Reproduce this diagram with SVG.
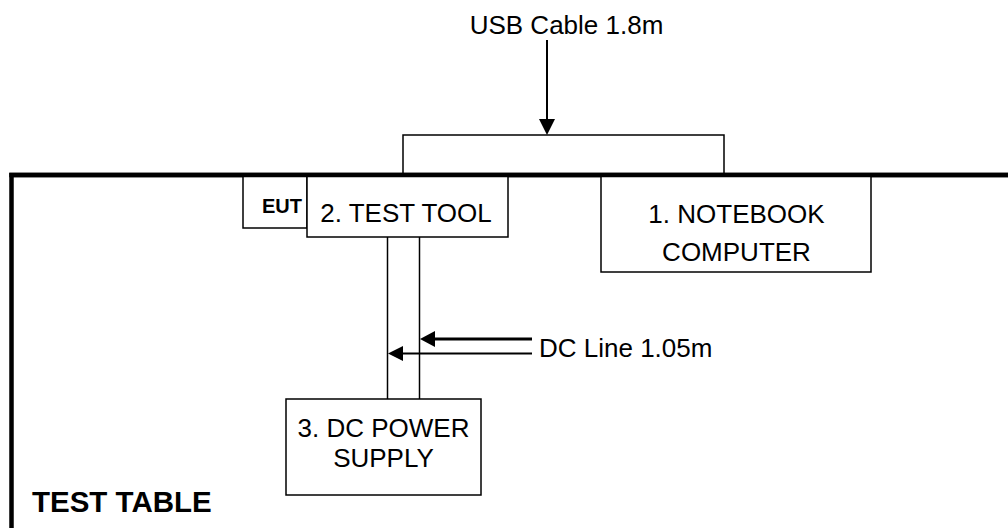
<svg xmlns="http://www.w3.org/2000/svg" width="1008" height="528" viewBox="0 0 1008 528">
<style>
.box{fill:#fff;stroke:#000;stroke-width:1.5}
.t{font-family:"Liberation Sans",Arial,sans-serif;font-size:26px;fill:#000}
.b{font-family:"Liberation Sans",Arial,sans-serif;font-weight:bold;fill:#000}
.ln{stroke:#000;fill:none}
</style>
<rect width="1008" height="528" fill="#fff"/>
<g id="table">
<path class="ln" d="M11.5 528 V175 H1008" stroke-width="4.5"/>
<text class="b" x="32" y="512" font-size="29.5">TEST TABLE</text>
</g>
<g id="connectors">
<path class="ln" d="M403 175 V135 H724 V175" stroke-width="1.5"/>
<line class="ln" x1="547" y1="40" x2="547" y2="121" stroke-width="2"/>
<polygon points="539,119 555,119 547,135" fill="#000"/>
<line class="ln" x1="387.5" y1="237" x2="387.5" y2="399" stroke-width="1.5"/>
<line class="ln" x1="419.5" y1="237" x2="419.5" y2="399" stroke-width="1.5"/>
<line class="ln" x1="532" y1="339" x2="433" y2="339" stroke-width="3"/>
<polygon points="420,339 435,331 435,347" fill="#000"/>
<line class="ln" x1="532" y1="353.5" x2="401" y2="353.5" stroke-width="2"/>
<polygon points="388,353.5 403,346 403,361" fill="#000"/>
</g>
<g id="usb-label"><text class="t" x="566.5" y="34" text-anchor="middle">USB Cable 1.8m</text></g>
<g id="dc-label"><text class="t" x="539" y="357">DC Line 1.05m</text></g>
<g id="eut">
<rect class="box" x="243" y="176" width="64" height="52"/>
<text class="b" x="262" y="213" font-size="20">EUT</text>
</g>
<g id="test-tool">
<rect class="box" x="307" y="176" width="201" height="61"/>
<text class="t" x="406" y="222" text-anchor="middle">2. TEST TOOL</text>
</g>
<g id="notebook">
<rect class="box" x="601" y="176" width="270" height="96"/>
<text class="t" x="736.5" y="223" text-anchor="middle">1. NOTEBOOK</text>
<text class="t" x="736.5" y="261" text-anchor="middle">COMPUTER</text>
</g>
<g id="dc-power">
<rect class="box" x="286" y="399" width="195" height="96"/>
<text class="t" x="383.5" y="437" text-anchor="middle">3. DC POWER</text>
<text class="t" x="383.5" y="467" text-anchor="middle">SUPPLY</text>
</g>
<path class="ln" d="M9.3 175 H1008" stroke-width="4.5"/>
</svg>
